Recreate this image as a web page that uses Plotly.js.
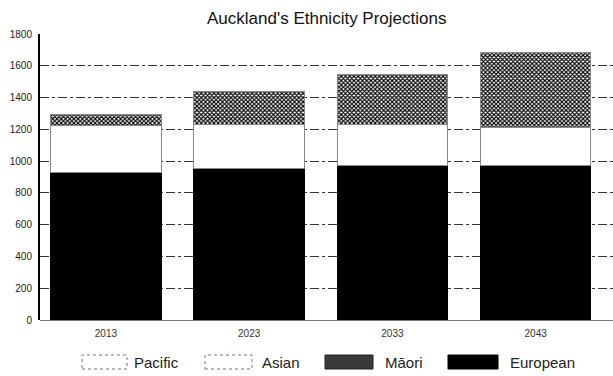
<!DOCTYPE html>
<html>
<head>
<meta charset="utf-8">
<script src="https://cdn.plot.ly/plotly-3.0.1.min.js"></script>
<style>
  html, body { margin: 0; padding: 0; background: #fff; }
  #chart { width: 613px; height: 376px; }
</style>
</head>
<body>
<div id="chart"></div>
<script>
// Projection years (x categories)
const years = ['2013', '2023', '2033', '2043'];

// Population by ethnic group, thousands (stacked bottom to top)
const european = [930, 955, 970, 970];
const asian    = [295, 275, 260, 242];
const maori    = [68, 208, 318, 473];
const pacific  = [0, 0, 0, 0];

// Legend labels, in display order
const legendNames = ['Pacific', 'Asian', 'Māori', 'European'];

// Y axis ticks
const yTicks = [0, 200, 400, 600, 800, 1000, 1200, 1400, 1600, 1800];

const W = 613, H = 376;
const M = { l: 40, r: 0, t: 34, b: 56 };
const plotW = W - M.l - M.r, plotH = H - M.t - M.b;
const px = x => (x - M.l) / plotW;          // pixel x -> paper x
const py = y => (H - M.b - y) / plotH;      // pixel y -> paper y

const fontFam = '"Liberation Sans Narrow", "Liberation Sans", Arial, sans-serif';

const traces = [
  { name: 'European', x: years, y: european, type: 'bar',
    marker: { color: '#000', line: { color: '#000', width: 1 } } },
  { name: 'Asian', x: years, y: asian, type: 'bar',
    marker: { color: '#fff', line: { color: '#8a8a8a', width: 1 } } },
  { name: 'Māori', x: years, y: maori, type: 'bar',
    marker: { color: '#fff', line: { color: '#8a8a8a', width: 1 },
              pattern: { shape: 'x', fgcolor: '#000', bgcolor: '#fff', size: 3, solidity: 0.6 } } },
  { name: 'Pacific', x: years, y: pacific, type: 'bar',
    marker: { color: '#fff', line: { color: '#8a8a8a', width: 1 } } }
];

// Legend swatches and labels
const swatchX = [[82, 127], [205, 252], [325, 373], [448, 498]];
const labelX = [132, 260, 383, 508];
const swatchStyle = [
  { fill: '#fff', line: '#777', dash: 'dot' },
  { fill: '#fff', line: '#777', dash: 'dot' },
  { fill: '#3a3a3a', line: '#222', dash: 'solid' },
  { fill: '#000', line: '#000', dash: 'solid' }
];
const shapes = [];
const annotations = [];
legendNames.forEach((nm, i) => {
  const st = swatchStyle[i];
  shapes.push({
    type: 'rect', xref: 'paper', yref: 'paper',
    x0: px(swatchX[i][0]), x1: px(swatchX[i][1]), y0: py(369), y1: py(355),
    fillcolor: st.fill, line: { color: st.line, width: 1, dash: st.dash }
  });
  annotations.push({
    xref: 'paper', yref: 'paper', x: px(labelX[i]), y: py(362),
    xanchor: 'left', yanchor: 'middle', showarrow: false, text: nm,
    font: { family: fontFam, size: 15, color: '#222' }
  });
});

const layout = {
  width: W, height: H,
  margin: M,
  paper_bgcolor: '#fff', plot_bgcolor: '#fff',
  barmode: 'stack', bargap: 0.23,
  showlegend: false,
  title: {
    text: "Auckland's Ethnicity Projections",
    x: 0.533, xanchor: 'center', y: 0.952, yanchor: 'middle',
    font: { family: fontFam, size: 17, color: '#111' }
  },
  xaxis: {
    type: 'category', range: [-0.46, 3.54],
    showgrid: false, showline: false, ticks: '', ticklabelstandoff: 6,
    tickfont: { family: fontFam, size: 10, color: '#333' }
  },
  yaxis: {
    range: [0, 1800], tickvals: yTicks, ticktext: yTicks.map(String),
    showgrid: true, gridcolor: '#333', gridwidth: 1, griddash: 'dashdot',
    zeroline: true, zerolinecolor: '#777', zerolinewidth: 1,
    showline: true, linecolor: '#000', linewidth: 2,
    ticks: '', ticklabelstandoff: 4,
    tickfont: { family: fontFam, size: 10, color: '#222' }
  },
  shapes: shapes,
  annotations: annotations
};

Plotly.newPlot('chart', traces, layout, { displayModeBar: false, staticPlot: true });
</script>
</body>
</html>
